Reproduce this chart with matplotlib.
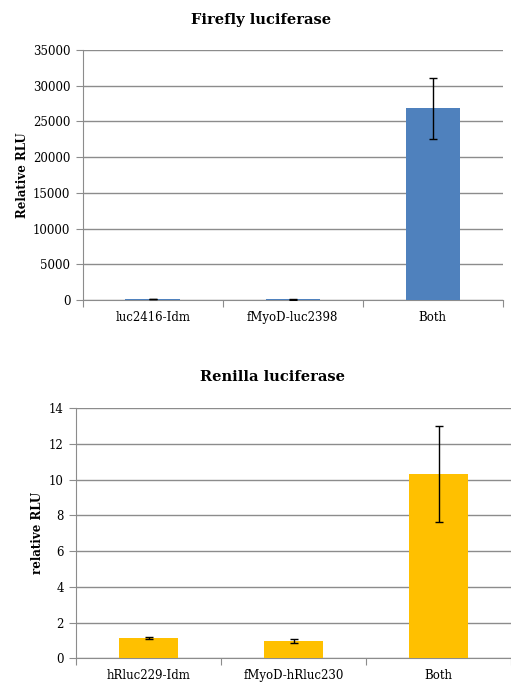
import matplotlib
matplotlib.use("Agg")
import matplotlib.pyplot as plt
import numpy as np

ff_categories = ["luc2416-Idm", "fMyoD-luc2398", "Both"]
ff_values = [110, 100, 26800]
ff_errors = [20, 20, 4270]
ff_ticks = [0, 5000, 10000, 15000, 20000, 25000, 30000, 35000]

rn_categories = ["hRluc229-Idm", "fMyoD-hRluc230", "Both"]
rn_values = [1.12, 0.96, 10.33]
rn_errors = [0.05, 0.11, 2.70]
rn_ticks = [0, 2, 4, 6, 8, 10, 12, 14]

plt.rcParams['font.family'] = ['DejaVu Serif']
fig = plt.figure(figsize=(5.11, 6.82), dpi=100)

def draw(ax, cats, vals, errs, ticks, color, width, ylabel, title, title_x, title_y):
    x = np.arange(len(cats))
    ax.bar(x, vals, width=width, color=color, zorder=3)
    ax.errorbar(x, vals, yerr=errs, fmt='none', ecolor='black', elinewidth=1,
                capsize=2.8, capthick=1, zorder=4)
    ax.set_xlim(-0.5, len(cats) - 0.5)
    ax.set_ylim(ticks[0], ticks[-1])
    ax.set_yticks(ticks)
    ax.set_yticklabels([str(t) for t in ticks], fontsize=8.5)
    ax.yaxis.grid(True, color='#8c8c8c', linewidth=1, zorder=0)
    ax.set_axisbelow(True)
    for s in ['top', 'right']:
        ax.spines[s].set_visible(False)
    ax.spines['left'].set_color('#8c8c8c')
    ax.spines['bottom'].set_color('#8c8c8c')
    ax.tick_params(axis='y', color='#8c8c8c', length=5, pad=4)
    ax.set_xticks(np.arange(len(cats) + 1) - 0.5)
    ax.set_xticklabels([])
    ax.set_xticks(x, minor=True)
    ax.set_xticklabels(cats, minor=True, fontsize=8.5)
    ax.tick_params(axis='x', which='major', color='#8c8c8c', length=5)
    ax.tick_params(axis='x', which='minor', length=0, pad=8)
    ax.set_ylabel(ylabel, fontsize=8.5, fontweight='bold')
    fig.text(title_x, title_y, title, ha='center', va='center', fontsize=10.5, fontweight='bold')

ax1 = fig.add_axes([0.162, 0.560, 0.822, 0.367])
draw(ax1, ff_categories, ff_values, ff_errors, ff_ticks, '#4F81BD', 0.39,
     'Relative RLU', 'Firefly luciferase', 0.51, 1 - 20 / 682)
ax1.yaxis.set_label_coords(-0.128, 0.5)

ax2 = fig.add_axes([0.149, 0.0347, 0.851, 0.3666])
draw(ax2, rn_categories, rn_values, rn_errors, rn_ticks, '#FFC000', 0.41,
     'relative RLU', 'Renilla luciferase', 0.533, 1 - 377 / 682)
ax2.yaxis.set_label_coords(-0.074, 0.5)

fig.savefig('out.png', dpi=100)
